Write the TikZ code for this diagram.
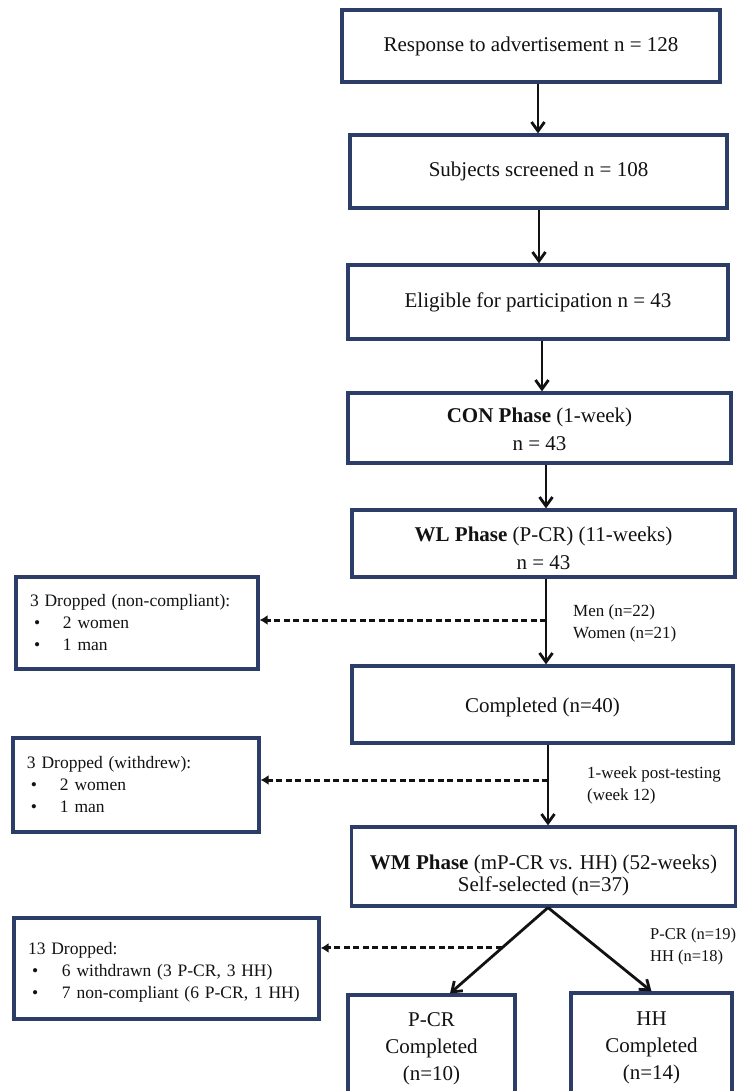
\documentclass[tikz,border=0pt]{standalone}
\usepackage{fontspec}
\setmainfont{Liberation Serif}
\usetikzlibrary{arrows.meta,calc}
\definecolor{boxc}{RGB}{44,62,104}
\definecolor{ink}{RGB}{18,18,18}
\begin{document}
\begin{tikzpicture}[x=1pt,y=-1pt,
  mainbox/.style={draw=boxc,line width=3.2pt,fill=white,inner sep=0pt,align=center,text=ink,font=\fontsize{21}{28}\selectfont},
  sidebox/.style={draw=boxc,line width=3.2pt,fill=white,inner sep=0pt,align=left,text=ink,font=\fontsize{17.5}{22}\selectfont},
  lbl/.style={anchor=west,align=left,inner sep=0pt,text=ink,font=\fontsize{17}{22}\selectfont},
  arr/.style={draw=ink,line width=2.8pt,-{Straight Barb[length=9pt,width=13pt]}},
  darr/.style={draw=ink,line width=3pt,dash pattern=on 6pt off 3.5pt,-{Latex[length=8pt,width=10pt]}}]
\fill[white] (0,0) rectangle (737,1091);
\useasboundingbox (0,0) rectangle (737,1091);

% main column
\node[mainbox,minimum width=378pt,minimum height=72pt] (b1) at (531,46) {Response to advertisement n = 128};
\node[mainbox,minimum width=377pt,minimum height=73pt] (b2) at (538.5,171.5) {Subjects screened n = 108};
\node[mainbox,minimum width=380pt,minimum height=74pt] (b3) at (538,302) {Eligible for participation n = 43};
\node[mainbox,minimum width=383pt,minimum height=70pt] (con) at (539.5,428) {\rule{0pt}{18pt}\textbf{CON Phase} (1-week)\\n = 43};
\node[mainbox,minimum width=383pt,minimum height=67pt] (wl) at (543.5,543.5) {\rule{0pt}{25pt}\textbf{WL Phase} (P-CR) (11-weeks)\\n = 43};
\node[mainbox,minimum width=381pt,minimum height=77pt] (comp) at (542.5,704.5) {\rule{0pt}{20pt}Completed (n=40)};
\node[mainbox,minimum width=384pt,minimum height=79pt,font=\fontsize{21}{22}\selectfont] (wm) at (543.5,866.5) {\rule{0pt}{33pt}\textbf{WM Phase} (mP-CR vs. HH) (52-weeks)\\Self-selected (n=37)};
\node[mainbox,minimum width=167pt,minimum height=100pt,font=\fontsize{21}{27}\selectfont] (pcr) at (431.5,1045) {\rule{0pt}{22pt}P-CR\\Completed\\(n=10)};
\node[mainbox,minimum width=161pt,minimum height=102pt,font=\fontsize{21}{27}\selectfont] (hh) at (651.5,1044) {\rule{0pt}{22pt}HH\\Completed\\(n=14)};

% side boxes
\node[sidebox,minimum width=242pt,minimum height=92pt,text width=214pt] (d1) at (137,623)
  {3 Dropped (non-compliant):\\\hspace*{4pt}\makebox[29pt][l]{\textbullet}2 women\\\hspace*{4pt}\makebox[29pt][l]{\textbullet}1 man};
\node[sidebox,minimum width=246pt,minimum height=94pt,text width=218pt] (d2) at (136,785)
  {3 Dropped (withdrew):\\\hspace*{4pt}\makebox[29pt][l]{\textbullet}2 women\\\hspace*{4pt}\makebox[29pt][l]{\textbullet}1 man};
\node[sidebox,minimum width=305pt,minimum height=101pt,text width=277pt] (d3) at (166.5,968.5)
  {\rule{0pt}{19pt}13 Dropped:\\\hspace*{4pt}\makebox[30pt][l]{\textbullet}6 withdrawn (3 P-CR, 3 HH)\\\hspace*{4pt}\makebox[30pt][l]{\textbullet}7 non-compliant (6 P-CR, 1 HH)};

% labels
\node[lbl] (l1) at (573,623) {Men (n=22)\\Women (n=21)};
\node[lbl] (l2) at (587,785) {1-week post-testing\\(week 12)};
\node[lbl,font=\fontsize{16.5}{22}\selectfont] (l3) at (650,947) {P-CR (n=19)\\HH (n=18)};

% arrow columns
\coordinate (a1) at (538,0);
\coordinate (a2) at (539,0);
\coordinate (a3) at (542,0);
\coordinate (a4) at (546,0);
\coordinate (a5) at (546,0);
\coordinate (a6) at (548,0);
\coordinate (tlx) at (450,0);

\draw[arr] (b1.south -| a1) -- (b2.north -| a1);
\draw[arr] (b2.south -| a2) -- (b3.north -| a2);
\draw[arr] (b3.south -| a3) -- (con.north -| a3);
\draw[arr] (con.south -| a4) -- (wl.north -| a4);
\draw[arr] (wl.south -| a5) -- (comp.north -| a5);
\draw[arr] (comp.south -| a6) -- (wm.north -| a6);

\coordinate (sp) at (wm.south -| a6);
\draw[arr] (sp) -- (pcr.north -| tlx);
\draw[arr] (sp) -- (hh.north);

% dashed exits
\coordinate (j1) at (546,620);
\coordinate (j2) at (548,780);
\path (sp) -- (pcr.north -| tlx) coordinate[pos=0.47] (j3);
\draw[darr] (j1) -- (j1 -| d1.east);
\draw[darr] (j2) -- (j2 -| d2.east);
\draw[darr] (j3) -- (j3 -| d3.east);
\end{tikzpicture}
\end{document}
